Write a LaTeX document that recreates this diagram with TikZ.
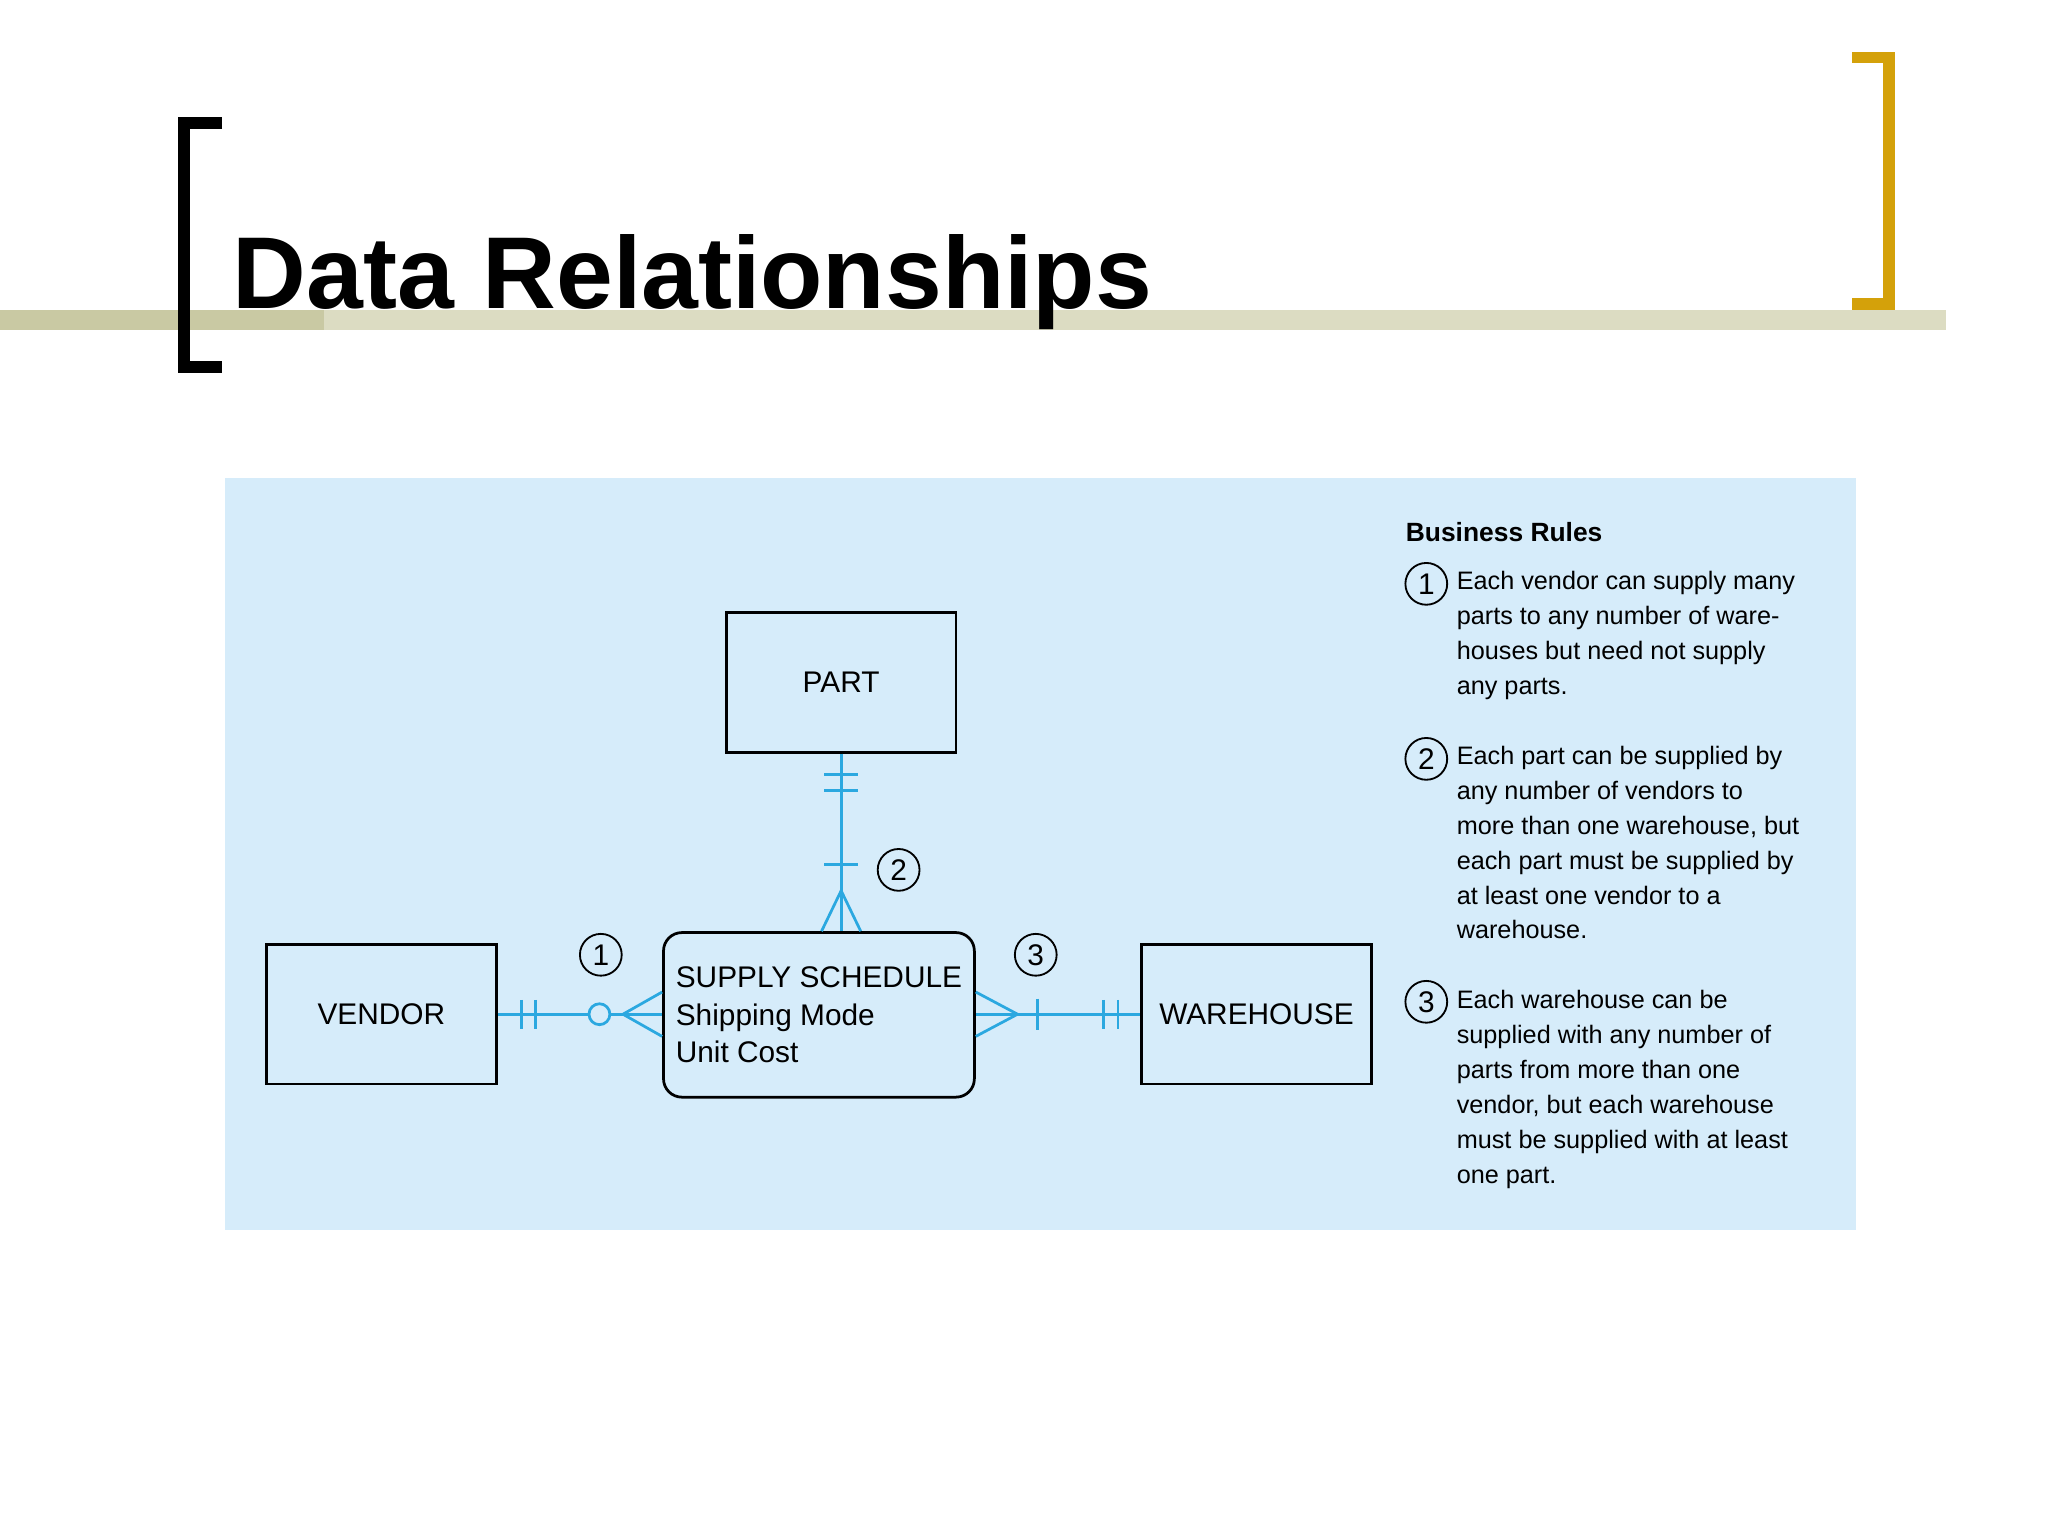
\documentclass[tikz,border=0pt]{standalone}
\usepackage{fontspec}
\setmainfont{Liberation Sans}
\usetikzlibrary{positioning}
\definecolor{erblue}{HTML}{2BA8E0}
\definecolor{panel}{HTML}{D6ECFA}
\definecolor{gold}{HTML}{D4A10A}
\definecolor{olive}{HTML}{C9C9A3}
\definecolor{oliveL}{HTML}{DCDCC2}
\begin{document}
\begin{tikzpicture}[x=0.02cm,y=-0.02cm,
  entity/.style={draw, line width=1.2pt, minimum width=176*0.02cm, minimum height=107*0.02cm, font=\fontsize{13}{16}\selectfont},
  num/.style={draw, circle, line width=0.8pt, minimum size=32*0.02cm, inner sep=0pt, font=\fontsize{13}{16}\selectfont},
  link/.style={erblue, line width=1.2pt},
  rule/.style={anchor=north west, align=left, inner sep=0pt, font=\fontsize{11}{15.2}\selectfont}]
\useasboundingbox (0,0) rectangle (1568,1176);
\fill[white] (0,0) rectangle (1568,1176);
% title band
\fill[olive] (0,237) rectangle (248,253);
\fill[oliveL] (248,237) rectangle (1490,253);
\draw[line width=9*0.567pt] (170,94) -- (141,94) -- (141,281) -- (170,281);
\draw[gold, line width=9*0.567pt] (1418,44) -- (1446,44) -- (1446,233) -- (1418,233);
\node[anchor=base west, inner sep=0pt, font=\bfseries\fontsize{44.5}{54}\selectfont] (title) at (178,236) {Data Relationships};
% panel
\fill[panel] (172,366) rectangle (1421,942);
\node[entity] (part) at (644,522.5) {PART};
\node[entity] (vendor) at (292,776.5) {VENDOR};
\node[entity] (wh) at (962,776.5) {WAREHOUSE};
\node[draw, line width=1.2pt, rounded corners=8pt, minimum width=238*0.02cm, minimum height=126*0.02cm,
  inner xsep=2pt, align=left, font=\fontsize{13}{16.3}\selectfont] (ss) at (627,777) {SUPPLY SCHEDULE\\Shipping Mode\\Unit Cost};
\coordinate (ssL) at (ss.west |- vendor.east);
\coordinate (ssR) at (ss.east |- wh.west);
\coordinate (ssT) at (ss.north -| part.south);
% connectors
\draw[link] (vendor.east) -- (ssL);
\draw[link] (ssR) -- (wh.west);
\draw[link] (part.south) -- (ssT);
% vendor side
\draw[link] ([xshift=18*0.02cm]vendor.east) ++(0,-11) -- ++(0,22);
\draw[link] ([xshift=29*0.02cm]vendor.east) ++(0,-11) -- ++(0,22);
\draw[link, fill=panel] ([xshift=-48*0.02cm]ssL) circle (8);
\draw[link] (ssL) ++(0,-17) -- ++(-30,17) -- ++(30,17);
% warehouse side
\draw[link] (ssR) ++(0,-17) -- ++(32,17) -- ++(-32,17);
\draw[link] ([xshift=47*0.02cm]ssR) ++(0,-12) -- ++(0,24);
\draw[link] ([xshift=-28*0.02cm]wh.west) ++(0,-11) -- ++(0,22);
\draw[link] ([xshift=-17*0.02cm]wh.west) ++(0,-11) -- ++(0,22);
% part side
\draw[link] ([yshift=-16*0.02cm]part.south) ++(-13,0) -- ++(26,0);
\draw[link] ([yshift=-28*0.02cm]part.south) ++(-13,0) -- ++(26,0);
\draw[link] ([yshift=51*0.02cm]ssT) ++(-13,0) -- ++(26,0);
\draw[link] (ssT) ++(-15,0) -- ++(15,-31) -- ++(15,31);
% numbers
\node[num] (n1) at (460,731) {1};
\node[num] (n2) at (688,666) {2};
\node[num] (n3) at (793,731) {3};
% business rules
\node[anchor=west, inner sep=0pt, font=\bfseries\fontsize{11.5}{14}\selectfont] (br) at (1076,407) {Business Rules};
\node[num] (r1) at (1092,447) {1};
\node[rule] (t1) at (1115,437) {Each vendor can supply many\\parts to any number of ware-\\houses but need not supply\\any parts.};
\node[num] (r2) at (1092,581) {2};
\node[rule] (t2) at (1115,571) {Each part can be supplied by\\any number of vendors to\\more than one warehouse, but\\each part must be supplied by\\at least one vendor to a\\warehouse.};
\node[num] (r3) at (1092,767) {3};
\node[rule] (t3) at (1115,758) {Each warehouse can be\\supplied with any number of\\parts from more than one\\vendor, but each warehouse\\must be supplied with at least\\one part.};
\end{tikzpicture}
\end{document}
